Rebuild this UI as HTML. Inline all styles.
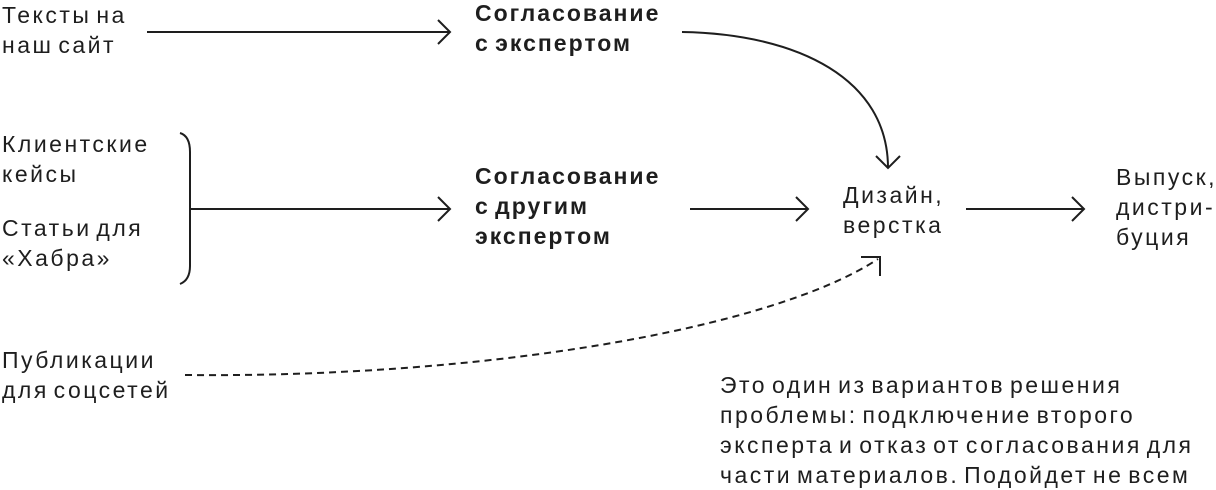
<!DOCTYPE html>
<html><head><meta charset="utf-8"><style>
html,body{margin:0;padding:0;background:#fff;}
body{width:1216px;height:488px;position:relative;overflow:hidden;font-family:"Liberation Sans","DejaVu Sans",sans-serif;color:#1e1e1e;}
.t{position:absolute;font-size:23px;line-height:30px;letter-spacing:2.5px;word-spacing:-4px;white-space:nowrap;}
.b{font-weight:bold;font-size:23px;letter-spacing:2px;word-spacing:-3px;}
svg{position:absolute;left:0;top:0;}
</style></head><body>
<svg width="1216" height="488" fill="none" stroke="#1e1e1e" stroke-width="2">
<path d="M147,32 H450 M438,20 L450,32 L438,44"/>
<path d="M682,32 C800,34 888,80 888,168 M876,156 L888,168 L900,156"/>
<path d="M180,133 Q190,136 190,152 V266 Q190,280 180,284"/>
<path d="M190,209 H450 M438,197 L450,209 L438,221"/>
<path d="M690,209 H808 M796,197 L808,209 L796,221"/>
<path d="M966,209 H1084 M1072,197 L1084,209 L1072,221"/>
<path d="M185,375 C480,378 770,330 878,259" stroke-dasharray="7,5"/>
<path d="M861,257 H880 V276"/>
</svg>
<div class="t" style="left:2px;top:0px">Тексты на<br>наш сайт</div>
<div class="t b" style="left:475px;top:-2px">Согласование<br>с экспертом</div>
<div class="t" style="left:2px;top:129px">Клиентские<br>кейсы</div>
<div class="t" style="left:2px;top:213px">Статьи для<br>«Хабра»</div>
<div class="t b" style="left:475px;top:161px">Согласование<br>с другим<br>экспертом</div>
<div class="t" style="left:843px;top:180px">Дизайн,<br>верстка</div>
<div class="t" style="left:1116px;top:162px">Выпуск,<br>дистри-<br>буция</div>
<div class="t" style="left:2px;top:345px">Публикации<br>для соцсетей</div>
<div class="t" style="left:720px;top:370px">Это один из вариантов решения<br>проблемы: подключение второго<br>эксперта и отказ от согласования для<br>части материалов. Подойдет не всем</div>
</body></html>
